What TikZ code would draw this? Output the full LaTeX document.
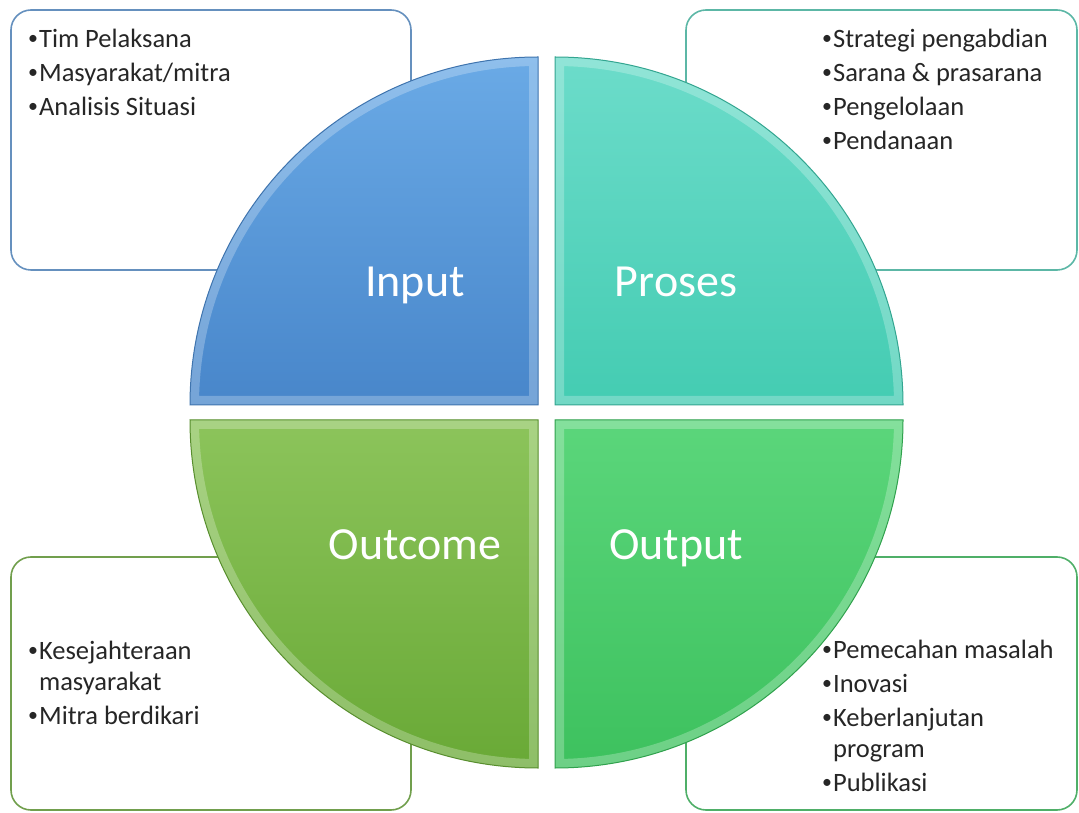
\documentclass[tikz,border=0pt]{standalone}
\usepackage{fontspec}
\setmainfont{Carlito}
\definecolor{inputtop}{HTML}{6AAAE6}
\definecolor{inputbot}{HTML}{4886CA}
\definecolor{inputdark}{HTML}{3F74AE}
\definecolor{prosestop}{HTML}{6CDCCA}
\definecolor{prosesbot}{HTML}{44CCB2}
\definecolor{prosesdark}{HTML}{33A590}
\definecolor{outcometop}{HTML}{8CC45B}
\definecolor{outcomebot}{HTML}{69A936}
\definecolor{outcomedark}{HTML}{588E2E}
\definecolor{outputtop}{HTML}{5BD67B}
\definecolor{outputbot}{HTML}{3DC15E}
\definecolor{outputdark}{HTML}{30A14D}
\newcommand{\bul}{\raisebox{0.12em}{\scalebox{0.75}{\textbullet}}\hspace{1pt}}
\newcommand{\drawquarter}[6]{%
	\begin{scope}
		\clip (#1) -- ++(#2:348) arc (#2:#3:348) -- cycle;
		\shade[top color=#4, bottom color=#5] (#1) -- ++(#2:348) arc (#2:#3:348) -- cycle;
		\draw[bevel] (#1) -- ++(#2:348) arc (#2:#3:348) -- cycle;
	\end{scope}
	\draw[draw=#6, line width=1pt] (#1) -- ++(#2:348) arc (#2:#3:348) -- cycle;}
\begin{document}
\begin{tikzpicture}[x=1pt, y=1pt,
	infobox/.style={draw=#1, line width=1.6pt, fill=white, rounded corners=20pt},
	itemtext/.style={anchor=north west, align=left, inner sep=0pt, text=black!85, font=\fontsize{26.5}{31}\selectfont},
	quadlabel/.style={text=white, font=\fontsize{46}{50}\selectfont},
	bevel/.style={draw=white, line width=18pt, opacity=0.25}]
	\useasboundingbox (0, 0) rectangle (1079, 812);
	% boxes behind the circle
	\draw[infobox=inputdark!80] (11, 802) rectangle (411, 542);
	\draw[infobox=prosesdark!80] (686, 802) rectangle (1077, 542);
	\draw[infobox=outcomedark!85] (11, 255) rectangle (411, 2);
	\draw[infobox=outputdark!85] (686, 255) rectangle (1077, 2);
	\node[itemtext] (inputlist) at (28, 783) {\bul Tim Pelaksana\\[3pt] \bul Masyarakat/mitra\\[3pt] \bul Analisis Situasi};
	\node[itemtext] (proseslist) at (822, 783) {\bul Strategi pengabdian\\[3pt] \bul Sarana \& prasarana\\[3pt] \bul Pengelolaan\\[3pt] \bul Pendanaan};
	\node[itemtext] (outcomelist) at (28, 171) {\bul Kesejahteraan\\ \phantom{\bul}masyarakat\\[3pt] \bul Mitra berdikari};
	\node[itemtext] (outputlist) at (822, 172) {\bul Pemecahan masalah\\[3pt] \bul Inovasi\\[3pt] \bul Keberlanjutan\\ \phantom{\bul}program\\[3pt] \bul Publikasi};
	% four quarters
	\coordinate (cin) at (538, 407);
	\coordinate (cpr) at (555, 407);
	\coordinate (coc) at (538, 392);
	\coordinate (cou) at (555, 392);
	\drawquarter{cin}{180}{90}{inputtop}{inputbot}{inputdark}
	\drawquarter{cpr}{0}{90}{prosestop}{prosesbot}{prosesdark}
	\drawquarter{coc}{180}{270}{outcometop}{outcomebot}{outcomedark}
	\drawquarter{cou}{0}{-90}{outputtop}{outputbot}{outputdark}
	\node[quadlabel] (input) at (415, 527) {Input};
	\node[quadlabel] (proses) at (676, 530) {Proses};
	\node[quadlabel] (outcome) at (415, 267) {Outcome};
	\node[quadlabel] (output) at (676, 264) {Output};
\end{tikzpicture}
\end{document}
